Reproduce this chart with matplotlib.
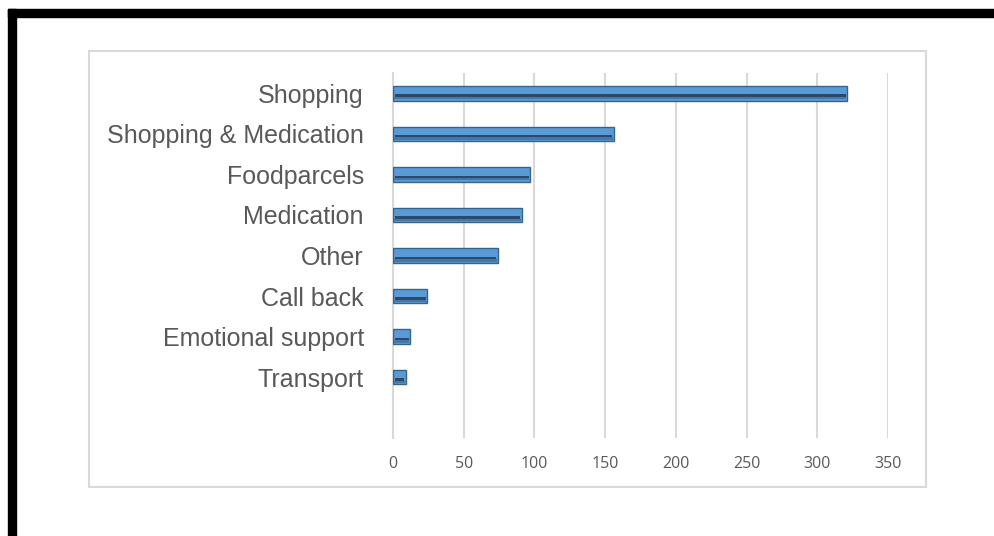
import matplotlib.pyplot as plt
from matplotlib.patches import Rectangle

categories = ['Shopping', 'Shopping & Medication', 'Foodparcels', 'Medication',
              'Other', 'Call back', 'Emotional support', 'Transport']
counts = [321, 156, 97, 91, 74, 24, 12, 9]
x_ticks = [0, 50, 100, 150, 200, 250, 300, 350]

fig = plt.figure(figsize=(9.95, 5.36), dpi=100)

# outer frame pieces (black) and the light chart panel
fig.patches.append(Rectangle((8 / 995, 1 - 17 / 536), 1, 8 / 536,
                             transform=fig.transFigure, color='black', zorder=0))
fig.patches.append(Rectangle((8 / 995, 0), 8 / 995, 1 - 9 / 536,
                             transform=fig.transFigure, color='black', zorder=0))
fig.patches.append(Rectangle((89 / 995, 1 - 487 / 536), 837 / 995, 436 / 536,
                             transform=fig.transFigure, facecolor='white',
                             edgecolor='#d9d9d9', lw=1.5, zorder=0))

ax = fig.add_axes([393 / 995, 1 - 438 / 536, 495 / 995, 365 / 536])
ax.set_zorder(2)
ax.set_facecolor('none')

pos = list(range(len(categories)))
h = 0.36
ax.barh(pos, counts, height=h, color='#5B9BD5', edgecolor='#35658F',
        linewidth=1.0, zorder=3)
# darker bevel strip to mimic the 3D look
ax.barh([p + 0.06 for p in pos], [c - 2.5 for c in counts], left=1.5,
        height=0.06, color='#2A4A6C', linewidth=0, zorder=4)
ax.barh([p + 0.12 for p in pos], [c - 1 for c in counts], left=0.5,
        height=0.06, color='#4478A8', linewidth=0, zorder=4)

ax.set_xlim(0, 350)
ax.set_ylim(8.5, -0.5)
ax.set_xticks(x_ticks)
ax.set_xticklabels([str(t) for t in x_ticks], fontsize=11.5, color='#595959',
                   family='Open Sans')
ax.set_yticks(pos)
ax.set_yticklabels(categories, fontsize=18, color='#595959',
                   family=['Liberation Sans', 'DejaVu Sans'])
ax.tick_params(axis='y', length=0, pad=21)
ax.tick_params(axis='x', length=0, pad=13)

ax.grid(axis='x', color='#d9d9d9', linewidth=1.5, zorder=0)
for s in ['top', 'right', 'bottom']:
    ax.spines[s].set_visible(False)
ax.spines['left'].set_color('#d9d9d9')
ax.spines['left'].set_linewidth(1.5)

plt.savefig('out.png', dpi=100)
